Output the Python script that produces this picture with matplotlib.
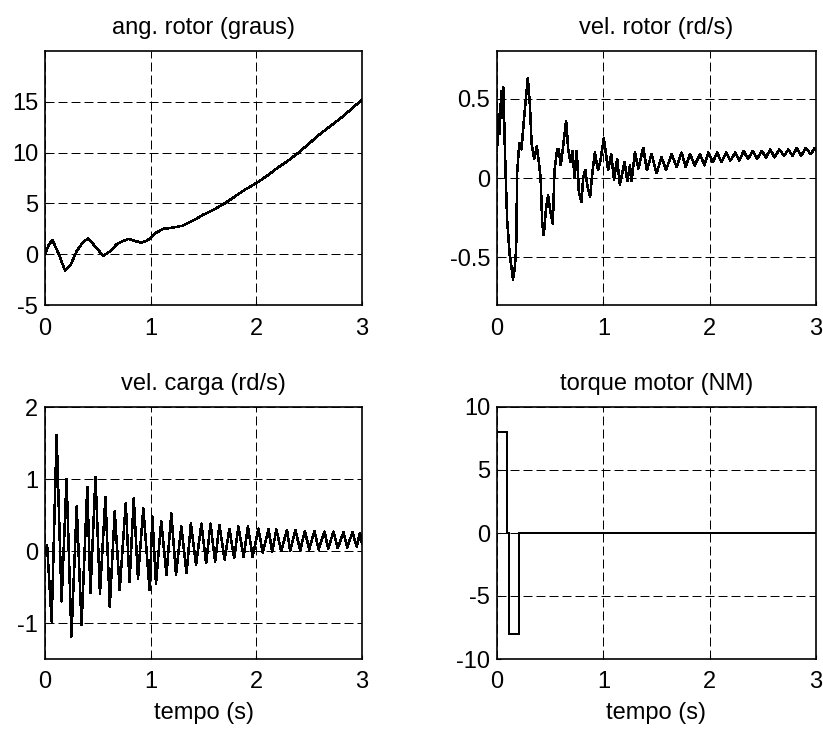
import numpy as np
import matplotlib
matplotlib.use("Agg")
import matplotlib.pyplot as plt

plt.rcParams['font.family'] = ['Liberation Sans', 'DejaVu Sans']

# ang. rotor (graus)
ang_t = [0, 0.035, 0.07, 0.13, 0.19, 0.24, 0.30, 0.36, 0.41, 0.48, 0.55, 0.62, 0.68, 0.74,
         0.79, 0.85, 0.91, 0.96, 1.0, 1.05, 1.12, 1.2, 1.3, 1.4, 1.5, 1.6, 1.7, 1.8, 1.9,
         2.0, 2.1, 2.2, 2.3, 2.4, 2.5, 2.6, 2.7, 2.8, 2.9, 3.0]
ang_v = [0, 0.9, 1.4, 0.0, -1.6, -1.1, 0.3, 1.2, 1.55, 0.7, -0.15, 0.3, 1.0, 1.3,
         1.5, 1.3, 1.15, 1.3, 1.6, 2.1, 2.5, 2.6, 2.8, 3.3, 3.9, 4.4, 5.0, 5.7, 6.4,
         7.0, 7.7, 8.5, 9.2, 10.0, 10.9, 11.8, 12.6, 13.4, 14.3, 15.2]

# vel. rotor (rd/s)
rotor_t = [0.0, 0.015, 0.025, 0.04, 0.05, 0.06, 0.075, 0.095, 0.12, 0.14, 0.15, 0.165, 0.18,
           0.19, 0.21, 0.23, 0.26, 0.29, 0.31, 0.325, 0.35, 0.375, 0.39, 0.41, 0.425, 0.44,
           0.46, 0.48, 0.50, 0.525, 0.54, 0.565, 0.58, 0.60, 0.62, 0.65, 0.67, 0.69, 0.71,
           0.73, 0.75, 0.77, 0.795, 0.81, 0.83, 0.85, 0.875, 0.90, 0.92, 0.95, 0.97, 1.005,
           1.045, 1.075, 1.10, 1.13, 1.155, 1.20, 1.225, 1.25, 1.265, 1.297, 1.33, 1.375,
           1.41, 1.454, 1.50, 1.548, 1.59, 1.642, 1.69, 1.736, 1.775, 1.815, 1.86, 1.909,
           1.95, 1.987, 2.03, 2.07, 2.11, 2.155, 2.195, 2.24, 2.28, 2.32, 2.36, 2.405,
           2.445, 2.49, 2.53, 2.57, 2.61, 2.655, 2.70, 2.74, 2.78, 2.82, 2.86, 2.905,
           2.95, 2.99, 3.0]
rotor_v = [0.17, 0.40, 0.28, 0.55, 0.38, 0.57, 0.16, -0.26, -0.49, -0.58, -0.64, -0.58, -0.45,
           0.04, 0.22, 0.18, 0.42, 0.63, 0.45, 0.22, 0.12, 0.20, 0.12, 0.0, -0.28, -0.36,
           -0.20, -0.11, -0.20, -0.29, 0.04, 0.18, 0.18, 0.08, 0.19, 0.36, 0.18, 0.10, 0.17,
           0.0, 0.17, -0.09, -0.15, 0.0, 0.05, -0.05, -0.12, 0.05, 0.16, 0.05, 0.10, 0.25,
           0.05, 0.15, -0.01, 0.12, -0.04, 0.10, -0.02, 0.08, -0.02, 0.16, 0.06, 0.19,
           0.05, 0.15, 0.03, 0.13, 0.05, 0.15, 0.07, 0.16, 0.07, 0.15, 0.08, 0.15,
           0.08, 0.16, 0.10, 0.16, 0.10, 0.16, 0.11, 0.16, 0.11, 0.17, 0.12, 0.17,
           0.12, 0.17, 0.13, 0.18, 0.13, 0.18, 0.14, 0.18, 0.14, 0.19, 0.14, 0.19,
           0.15, 0.19, 0.17]

# vel. carga (rd/s)
carga_t = [0.0, 0.02, 0.063, 0.11, 0.157, 0.204, 0.25, 0.30, 0.346, 0.40, 0.43, 0.478, 0.52,
           0.572, 0.613, 0.66, 0.707, 0.764, 0.80, 0.84, 0.88, 0.93, 0.99, 1.016, 1.05, 1.10,
           1.15, 1.195, 1.24, 1.29, 1.34, 1.38, 1.43, 1.48, 1.525, 1.566, 1.61, 1.65, 1.70,
           1.745, 1.79, 1.83, 1.88, 1.92, 1.965, 2.02, 2.06, 2.115, 2.15, 2.19, 2.235, 2.29,
           2.32, 2.37, 2.415, 2.46, 2.50, 2.55, 2.59, 2.645, 2.68, 2.73, 2.77, 2.825, 2.86,
           2.91, 2.95, 2.98, 3.0]
carga_v = [0.0, 0.08, -0.98, 1.61, -0.70, 1.0, -1.19, 0.62, -1.03, 0.89, -0.58, 1.03, -0.59,
           0.75, -0.77, 0.55, -0.54, 0.66, -0.43, 0.73, -0.38, 0.59, -0.54, 0.48, -0.45, 0.41,
           -0.33, 0.52, -0.33, 0.34, -0.31, 0.38, -0.19, 0.38, -0.17, 0.38, -0.15, 0.36, -0.12,
           0.31, -0.10, 0.34, -0.08, 0.34, -0.08, 0.31, -0.02, 0.30, -0.01, 0.30, 0.0, 0.29,
           0.0, 0.29, 0.01, 0.28, 0.02, 0.28, 0.02, 0.27, 0.03, 0.27, 0.04, 0.26, 0.05,
           0.26, 0.06, 0.25, 0.1]

# torque motor (NM)
torque_t = [0, 0.095, 0.095, 0.113, 0.113, 0.208, 0.208, 3.0]
torque_v = [8, 8, 0, 0, -8, -8, 0, 0]

W, H = 823, 733
fig = plt.figure(figsize=(W / 100, H / 100), dpi=100)

def px_axes(left, top, right, bottom):
    return fig.add_axes([left / W, 1 - bottom / H, (right - left) / W, (bottom - top) / H])

axes = [px_axes(45, 51, 362, 305), px_axes(497, 51, 816, 305),
        px_axes(45, 407, 362, 659), px_axes(497, 407, 816, 659)]

series = [(ang_t, ang_v), (rotor_t, rotor_v), (carga_t, carga_v), (torque_t, torque_v)]
titles = ['ang. rotor (graus)', 'vel. rotor (rd/s)', 'vel. carga (rd/s)', 'torque motor (NM)']
ylims = [(-5, 20), (-0.8, 0.8), (-1.5, 2), (-10, 10)]
yticks = [[-5, 0, 5, 10, 15], [-0.5, 0, 0.5], [-1, 0, 1, 2], [-10, -5, 0, 5, 10]]
yticklabels = [['-5', '0', '5', '10', '15'], ['-0.5', '0', '0.5'],
               ['-1', '0', '1', '2'], ['-10', '-5', '0', '5', '10']]

for i, ax in enumerate(axes):
    t, v = series[i]
    ax.plot(t, v, color='black', lw=1.1, antialiased=False)
    ax.set_xlim(0, 3)
    ax.set_ylim(*ylims[i])
    ax.set_xticks([0, 1, 2, 3])
    ax.set_yticks(yticks[i])
    ax.set_yticklabels(yticklabels[i])
    ax.grid(True, color='black', lw=0.72, linestyle=(0, (9, 4)))
    ax.tick_params(direction='in', length=3, labelsize=17, colors='black')
    ax.tick_params(axis='x', pad=9)
    ax.tick_params(axis='y', pad=5)
    for s in ax.spines.values():
        s.set_linewidth(1.2)
    ax.set_title(titles[i], fontsize=17, pad=12)
    if i >= 2:
        ax.set_xlabel('tempo (s)', fontsize=17, labelpad=6)

fig.savefig('out.png', dpi=100)
